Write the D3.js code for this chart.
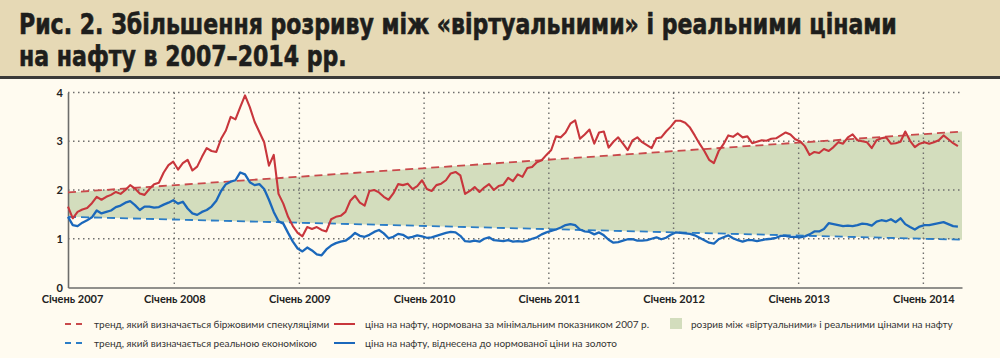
<!DOCTYPE html>
<html>
<head>
<meta charset="utf-8">
<script src="https://cdn.jsdelivr.net/npm/d3@7"></script>
<style>
  body { margin: 0; background: #fffbf0; }
  svg { display: block; }
</style>
</head>
<body>
<div id="chart"></div>
<script>
// oil price, normalised to the 2007 minimum (every ~2 weeks from late Feb 2007)
const oilNormalized = [
  1.66,1.42,1.55,1.60,1.63,1.73,1.86,1.80,1.86,1.90,1.96,1.92,2.00,2.10,2.03,1.93,1.90,2.02,2.12,2.15,
  2.36,2.51,2.58,2.42,2.55,2.62,2.40,2.48,2.68,2.86,2.80,2.78,3.05,3.22,3.50,3.45,3.70,3.94,3.70,3.40,
  3.19,2.98,2.50,2.72,1.92,1.72,1.45,1.26,1.12,1.05,1.24,1.20,1.24,1.18,1.15,1.40,1.45,1.47,1.55,1.78,
  1.88,1.74,1.68,1.98,2.00,1.95,1.86,1.80,1.93,2.12,2.10,2.13,2.02,2.08,2.20,2.02,1.98,2.10,2.13,2.20,
  2.34,2.37,2.30,1.92,1.98,2.06,1.96,2.05,2.12,2.00,2.08,2.11,2.25,2.18,2.32,2.27,2.45,2.47,2.57,2.61,
  2.72,2.82,3.10,3.08,3.18,3.36,3.43,3.05,3.14,3.24,2.95,3.18,3.20,2.87,2.99,3.08,2.95,2.82,3.02,3.08,
  2.98,2.92,2.86,3.06,3.08,3.20,3.30,3.42,3.42,3.38,3.28,3.12,2.95,2.80,2.62,2.55,2.80,2.94,3.12,3.09,
  3.16,3.08,3.10,2.96,2.99,3.02,3.01,3.05,3.06,3.12,3.18,3.14,3.04,3.00,2.90,2.72,2.78,2.76,2.84,2.80,
  2.88,2.98,2.95,3.08,3.14,3.02,3.00,2.98,2.86,3.02,3.06,3.08,2.95,2.96,2.99,3.20,3.01,2.88,2.95,2.98,
  2.95,2.98,3.02,3.12,3.04,2.96,2.90
];

// oil price relative to the normalised gold price
const oilToGold = [
  1.45,1.28,1.26,1.33,1.38,1.44,1.58,1.52,1.55,1.58,1.65,1.68,1.74,1.77,1.69,1.59,1.66,1.66,1.64,1.65,
  1.70,1.74,1.79,1.72,1.76,1.62,1.52,1.49,1.55,1.59,1.66,1.78,1.98,2.12,2.17,2.20,2.36,2.32,2.16,2.10,
  2.12,2.02,1.80,1.55,1.36,1.31,1.12,0.94,0.80,0.74,0.82,0.76,0.68,0.66,0.78,0.86,0.91,0.94,0.96,1.03,
  1.12,1.06,1.04,1.08,1.14,1.18,1.11,1.01,1.04,1.10,1.08,1.02,1.04,1.07,1.05,1.02,1.03,1.06,1.09,1.12,
  1.14,1.13,1.06,0.95,0.94,0.96,0.94,1.00,1.03,0.97,0.96,0.95,0.97,0.94,0.95,0.94,0.96,1.00,1.03,1.09,
  1.13,1.16,1.19,1.23,1.28,1.30,1.28,1.19,1.15,1.14,1.09,1.13,1.07,0.98,0.92,0.93,0.96,0.99,0.99,0.96,
  0.96,0.97,1.00,1.03,0.99,1.02,1.08,1.13,1.12,1.11,1.10,1.07,1.02,0.97,0.92,0.90,0.99,1.03,1.07,1.01,
  0.97,0.94,0.97,0.97,0.95,0.97,0.99,1.00,1.02,1.06,1.06,1.04,1.04,1.03,1.05,1.09,1.15,1.15,1.20,1.32,
  1.30,1.28,1.26,1.27,1.26,1.28,1.31,1.30,1.27,1.35,1.38,1.36,1.40,1.34,1.42,1.30,1.24,1.19,1.25,1.28,
  1.28,1.30,1.32,1.34,1.30,1.26,1.25
];

// trend lines (start / end of the period)
const trendDates = ["2007-02-24", "2014-04-24"];
const speculativeTrend = [1.95, 3.20];
const realTrend = [1.45, 0.98];

const yTicks = [0, 1, 2, 3, 4];
const xTickDates = ["2007-02-24", "2008-01-01", "2009-01-01", "2010-01-01", "2011-01-01", "2012-01-01", "2013-01-01", "2014-01-01"];
const xTickLabels = ["Січень 2007", "Січень 2008", "Січень 2009", "Січень 2010", "Січень 2011", "Січень 2012", "Січень 2013", "Січень 2014"];

const titleLines = ["Рис. 2. Збільшення розриву між «віртуальними» і реальними цінами", "на нафту в 2007–2014 рр."];

const legendItems = [
  { label: "тренд, який визначається біржовими спекуляціями", type: "dash", color: "#c9494b" },
  { label: "ціна на нафту, нормована за мінімальним показником 2007 р.", type: "line", color: "#c8363c" },
  { label: "розрив між «віртуальними» і реальними цінами на нафту", type: "box", color: "#d3ddbd" },
  { label: "тренд, який визначається реальною економікою", type: "dash", color: "#2b7dc6" },
  { label: "ціна на нафту, віднесена до нормованої ціни на золото", type: "line", color: "#1b68bb" }
];

const width = 1000, height = 358;
const parse = d3.timeParse("%Y-%m-%d");
const startDate = parse(trendDates[0]);
const endDate = parse(trendDates[1]);

const seriesDates = oilNormalized.map((d, i) => d3.timeDay.offset(startDate, i * 14));

const x = d3.scaleTime().domain([startDate, endDate]).range([68, 962]);
const y = d3.scaleLinear().domain([0, 4]).range([287.5, 92.5]);

const svg = d3.select("#chart").append("svg")
    .attr("width", width)
    .attr("height", height);

// background + title band
svg.append("rect").attr("width", width).attr("height", height).attr("fill", "#fffbf0");
svg.append("rect").attr("width", width).attr("height", 77).attr("fill", "#e6d9b5");
svg.append("rect").attr("y", 76).attr("width", width).attr("height", 3).attr("fill", "#3a3a38");

// title: condensed bold letters, squeezed horizontally so line 1 spans the original width
const titleGroup = svg.append("g");
const titles = titleGroup.selectAll("text.title")
    .data(titleLines)
    .enter().append("text")
    .attr("class", "title")
    .attr("x", 0)
    .attr("y", (d, i) => 34 + i * 32)
    .attr("font-family", "'Liberation Sans Narrow', 'DejaVu Sans Condensed', 'Roboto', sans-serif")
    .attr("font-weight", "bold")
    .attr("font-size", 28.5)
    .attr("fill", "#1e1e1c")
    .attr("stroke", "#1e1e1c")
    .attr("stroke-width", 0.6)
    .text(d => d);
const firstLen = titles.node().getComputedTextLength();
titleGroup.attr("transform", `translate(19,0) scale(${878 / firstLen},1)`);

// gap between the two trends
const trendPts = trendDates.map((d, i) => ({ date: parse(d), hi: speculativeTrend[i], lo: realTrend[i] }));
svg.append("path")
    .datum(trendPts)
    .attr("fill", "#d3ddbd")
    .attr("d", d3.area().x(d => x(d.date)).y0(d => y(d.lo)).y1(d => y(d.hi)));

// dotted grid
const grid = svg.append("g").attr("stroke", "#6f6f6d").attr("stroke-width", 1.4).attr("stroke-dasharray", "1.5,3.5");
grid.selectAll("line.h")
    .data(yTicks.filter(d => d > 0))
    .enter().append("line")
    .attr("x1", x.range()[0]).attr("x2", x.range()[1])
    .attr("y1", d => y(d)).attr("y2", d => y(d));
grid.selectAll("line.v")
    .data(xTickDates.slice(1).map(parse))
    .enter().append("line")
    .attr("x1", d => x(d)).attr("x2", d => x(d))
    .attr("y1", y(4)).attr("y2", y(0));

// axes
const yAxis = svg.append("g")
    .attr("transform", `translate(${x.range()[0]},0)`)
    .call(d3.axisLeft(y).tickValues(yTicks).tickFormat(d3.format("d")).tickSize(0).tickPadding(5));
const xAxis = svg.append("g")
    .attr("transform", `translate(0,${y(0)})`)
    .call(d3.axisBottom(x).tickValues(xTickDates.map(parse)).tickFormat((d, i) => xTickLabels[i]).tickSize(0).tickPadding(8));

[yAxis, xAxis].forEach(a => {
  a.select(".domain").attr("stroke", "#6d6d6b").attr("stroke-width", 1.6);
  a.selectAll("text")
      .attr("font-family", "Lato, 'Open Sans', sans-serif")
      .attr("font-weight", "bold")
      .attr("font-size", 11)
      .attr("fill", "#222");
});
xAxis.select(".tick text").attr("dx", 4);

// trend lines
const trendLine = key => d3.line().x(d => x(d.date)).y(d => y(d[key]));
svg.append("path").datum(trendPts)
    .attr("fill", "none").attr("stroke", "#c9494b").attr("stroke-width", 1.8)
    .attr("stroke-dasharray", "8,5").attr("d", trendLine("hi"));
svg.append("path").datum(trendPts)
    .attr("fill", "none").attr("stroke", "#2b7dc6").attr("stroke-width", 1.8)
    .attr("stroke-dasharray", "8,5").attr("d", trendLine("lo"));

// price lines
const priceLine = d3.line().x((d, i) => x(seriesDates[i])).y(d => y(d));
svg.append("path").datum(oilToGold)
    .attr("fill", "none").attr("stroke", "#1b68bb").attr("stroke-width", 2.3)
    .attr("stroke-linejoin", "round").attr("d", priceLine);
svg.append("path").datum(oilNormalized)
    .attr("fill", "none").attr("stroke", "#c8363c").attr("stroke-width", 2.1)
    .attr("stroke-linejoin", "round").attr("d", priceLine);

// legend
const legendPos = [[65, 324], [334, 324], [670, 324], [65, 343], [334, 343]];
const legend = svg.selectAll("g.legend")
    .data(legendItems)
    .enter().append("g")
    .attr("class", "legend")
    .attr("transform", (d, i) => `translate(${legendPos[i][0]},${legendPos[i][1]})`);

legend.each(function (d) {
  const g = d3.select(this);
  if (d.type === "box") {
    g.append("rect").attr("x", 0).attr("y", -6).attr("width", 12).attr("height", 11).attr("fill", d.color);
  } else {
    g.append("line").attr("x1", 0).attr("x2", d.type === "dash" ? 17 : 21).attr("y1", 0).attr("y2", 0)
        .attr("stroke", d.color).attr("stroke-width", 2)
        .attr("stroke-dasharray", d.type === "dash" ? "6,5" : null);
  }
  g.append("text")
      .attr("x", d.type === "box" ? 21 : (d.type === "dash" ? 29 : 31))
      .attr("y", 3.5)
      .attr("font-family", "Lato, 'Open Sans', sans-serif")
      .attr("font-size", 10)
      .attr("fill", "#333")
      .text(d.label);
});
</script>
</body>
</html>
